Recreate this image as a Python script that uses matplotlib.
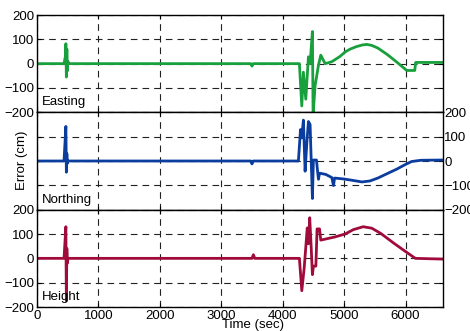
import numpy as np
import matplotlib
matplotlib.use("Agg")
import matplotlib.pyplot as plt

# ============================
# Data
# ============================
time_e = [0, 440, 462, 470, 478, 486, 494, 502, 515, 3480, 3500, 3520, 4272, 4311,
          4337, 4376, 4419, 4446, 4484, 4495, 4528, 4582, 4620, 4691, 4760, 4800,
          4935, 5016, 5100, 5200, 5300, 5370, 5450, 5550, 5700, 5850, 6020, 6150,
          6165, 6600]
easting = [0, 0, 30, 82, -55, 60, -30, 10, 0, 0, -10, 0, 0, -174,
           -35, -146, 28, 0, 132, -210, -90, -7, 35, 0, 5, 8,
           30, 48, 60, 70, 77, 79, 75, 64, 38, 8, -28, -28,
           5, 5]

time_n = [0, 440, 470, 478, 486, 494, 505, 3480, 3500, 3520, 4256, 4290, 4310, 4337,
          4365, 4392, 4419, 4446, 4484, 4500, 4550, 4565, 4582, 4600, 4700, 4800,
          4827, 4845, 5000, 5150, 5290, 5420, 5550, 5700, 5860, 6000, 6100, 6250,
          6600]
northing = [0, 0, 142, -46, 30, -10, 0, 0, -12, 0, 0, 129, 95, 168,
            -42, 70, 162, 150, -154, 4, 4, -35, -75, -50, -55, -68,
            -101, -70, -74, -80, -86, -82, -70, -52, -33, -14, -2, 3,
            4]

time_h = [0, 440, 470, 478, 486, 494, 505, 3500, 3523, 3545, 4272, 4311, 4350, 4400,
          4419, 4440, 4465, 4484, 4500, 4540, 4560, 4600, 4620, 4850, 5016, 5150,
          5310, 5450, 5600, 5800, 6000, 6160, 6600]
height = [0, 0, 130, -175, 40, -20, 0, 0, 15, 0, 0, -133, -40, 125,
          60, 167, 40, -67, -32, -32, 121, 121, 75, 88, 100, 118,
          130, 124, 102, 64, 28, 0, -3]

labels = ["Easting", "Northing", "Height"]
colors = ["#18a03c", "#0b3d9e", "#a00b3b"]
yticks = [-200, -100, 0, 100, 200]
xticks = [0, 1000, 2000, 3000, 4000, 5000, 6000]

plt.rcParams['font.family'] = ['Liberation Sans', 'DejaVu Sans']
plt.rcParams['font.size'] = 9.5

fig = plt.figure(figsize=(4.70, 3.31), dpi=100)
W, H = 470.0, 331.0
left, right = 37 / W, 443 / W
edges = [15, 112.3, 209.7, 307]

series = [(time_e, easting), (time_n, northing), (time_h, height)]
axes = []
for i, (t, v) in enumerate(series):
    top_px, bot_px = edges[i], edges[i + 1]
    ax = fig.add_axes([left, 1 - bot_px / H, right - left, (bot_px - top_px) / H])
    ax.plot(t, v, color=colors[i], lw=2.0)
    ax.set_xlim(0, 6610)
    ax.set_ylim(-200, 200)
    ax.set_xticks(xticks)
    ax.set_yticks(yticks)
    ax.grid(True, color='#222222', ls=(0, (6, 4.5)), lw=0.8)
    ax.tick_params(direction='in', length=3, width=0.8, top=True, right=True,
                   labelsize=9.5, pad=2)
    if i == 1:
        ax.tick_params(axis='y', labelleft=False, labelright=True, pad=1)
    if i < 2:
        ax.tick_params(axis='x', labelbottom=False)
    for s in ax.spines.values():
        s.set_linewidth(1.0)
    ax.text(0.012, 0.04, labels[i], transform=ax.transAxes, ha='left', va='bottom',
            fontsize=9.5)
    axes.append(ax)

fig.text(253 / W, 1 - 325 / H, "Time (sec)", ha='center', va='center', fontsize=9.5)
fig.text(22 / W, 1 - 160.5 / H, "Error (cm)", ha='center', va='center',
         rotation=90, fontsize=9.5)

fig.savefig("out.png", dpi=100)
